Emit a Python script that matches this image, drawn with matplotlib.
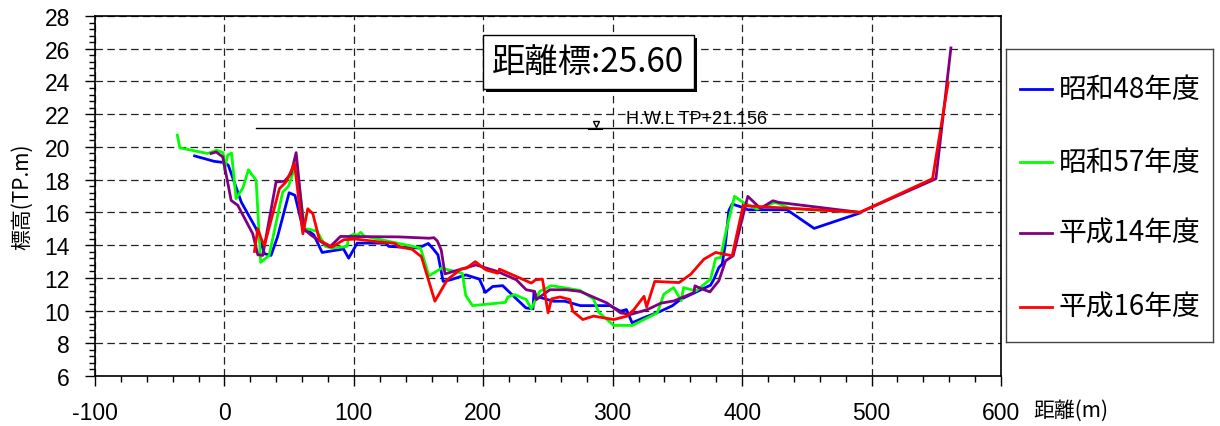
import numpy as np
import matplotlib
matplotlib.use('Agg')
import matplotlib.pyplot as plt
import matplotlib.patheffects as pe
from matplotlib.ticker import MultipleLocator

plt.rcParams['font.family'] = ['Noto Sans CJK JP', 'DejaVu Sans']
plt.rcParams['axes.unicode_minus'] = False

# 昭和48年度
x_s48 = [-23, -8, 0, 3, 13, 24.5, 31, 36, 41, 50, 54.5, 61, 66, 69, 75.5, 92, 96, 102.6,
         124.5, 127, 150, 157.5, 161, 165, 169, 174.8, 186.5, 197, 201.6, 207.3, 215, 223,
         233, 238.4, 239.2, 241, 254, 263, 275, 288, 298, 306, 310.6, 315, 324, 337, 346,
         352.6, 375.6, 378.2, 382, 384.6, 387.2, 389.7, 392.3, 400, 404.4, 434.6, 455.6, 491]
y_s48 = [19.45, 19.12, 19.04, 18.88, 16.63, 15.0, 13.47, 13.37, 14.5, 17.2, 17.04, 14.9, 14.8,
         14.63, 13.55, 13.76, 13.2, 14.12, 14.12, 13.92, 13.82, 14.1, 13.8, 13.4, 11.78, 11.88,
         12.18, 11.92, 11.11, 11.47, 11.52, 10.91, 10.16, 10.1, 11.17, 10.87, 10.57, 10.57,
         10.3, 10.3, 10.3, 9.96, 10.06, 9.25, 9.56, 9.96, 10.29, 10.69, 11.55, 11.92, 12.63,
         12.84, 14.16, 16.1, 16.51, 16.31, 16.16, 16.16, 15.02, 15.96]

# 昭和57年度
x_s57 = [-36.4, -34.4, -13, -6, -1, 0, 2.5, 5.5, 9, 14.3, 18.5, 24.5, 28, 34.5, 45, 49.5,
         55.5, 62, 66.5, 71.6, 78, 83, 94.8, 96.1, 100, 103, 105.2, 108, 151.5, 158, 167.8,
         183.8, 186.5, 191.7, 217.1, 219, 224.2, 233.2, 237.1, 243.6, 252.7, 274.8, 285.2,
         289.1, 300.8, 315.1, 334.5, 339.5, 347, 353, 354.7, 364.4, 375.6, 379.5, 383.3,
         388.5, 394.1, 400.8, 411.5, 425.6, 437.2, 491]
y_s57 = [20.72, 19.94, 19.6, 19.8, 19.65, 18.6, 19.5, 19.62, 16.84, 17.5, 18.6, 17.96, 12.94,
         13.37, 17.24, 17.6, 19.0, 15.0, 14.95, 14.84, 13.92, 13.82, 13.92, 14.53, 14.67,
         14.6, 14.78, 14.55, 13.82, 12.12, 12.59, 12.28, 10.91, 10.3, 10.5, 10.83, 10.97,
         10.67, 10.1, 11.17, 11.52, 11.23, 10.71, 9.9, 9.09, 9.09, 9.86, 11.0, 11.4, 10.6,
         11.4, 11.2, 11.92, 13.18, 13.24, 15.18, 16.98, 16.61, 16.2, 16.61, 16.24, 16.0]

# 平成14年度
x_h14 = [-10.3, -6.4, -1.3, 5.2, 10.3, 21.9, 25.8, 29.6, 39.9, 46.4, 51.5, 55.4, 61.3, 67,
         74.7, 81.5, 89.7, 135, 158, 161.9, 164.5, 167.5, 170.4, 194.3, 211.2, 225.5, 233.2,
         239.7, 241, 251.4, 264.4, 274.8, 295.6, 306, 313.8, 326.8, 337.2, 347.4, 362.8,
         363.5, 368, 375.1, 382, 387.2, 393.1, 398.7, 404.4, 414.1, 423.8, 428.2, 491, 549.7,
         561.3]
y_h14 = [19.6, 19.69, 19.39, 16.73, 16.43, 14.69, 13.41, 13.37, 17.86, 17.9, 18.37, 19.65,
         15.0, 14.6, 14.2, 13.89, 14.53, 14.5, 14.42, 14.45, 14.25, 13.7, 12.24, 12.79, 12.38,
         11.88, 11.27, 11.17, 10.67, 11.27, 11.27, 11.17, 10.46, 9.86, 9.76, 10.06, 10.45,
         10.59, 11.1, 11.51, 11.35, 11.14, 11.82, 13.04, 13.35, 15.18, 16.98, 16.24, 16.71,
         16.61, 16.0, 18.05, 26.05]

# 平成16年度
x_h16 = [23.2, 25.8, 28.4, 30.9, 42.5, 47.7, 54.1, 60.6, 64.4, 68.3, 73.5, 83.2, 92.3, 101.3,
         119, 132, 134.6, 145, 152.2, 162.6, 172.2, 182.6, 187, 193.8, 202.1, 211.2, 212.5,
         237.1, 240.5, 245.7, 250.1, 252.7, 259.2, 267, 269.1, 276.9, 285.2, 300.8, 311.2,
         316.4, 324.2, 326.2, 332.5, 351.3, 360.3, 370.5, 379.5, 392.3, 400.8, 491, 547.1,
         559.2]
y_h16 = [13.61, 15.0, 14.39, 13.98, 17.45, 17.86, 18.98, 14.69, 16.22, 15.92, 14.29, 13.88,
         14.33, 14.37, 14.2, 14.1, 13.9, 13.74, 13.29, 10.57, 11.88, 12.53, 12.59, 12.99,
         12.48, 12.28, 12.53, 11.68, 11.88, 11.92, 9.86, 10.71, 10.83, 10.67, 9.96, 9.45,
         9.66, 9.45, 9.66, 10.06, 10.87, 10.22, 11.78, 11.71, 12.22, 13.14, 13.55, 13.35,
         16.41, 16.0, 18.06, 23.93]

series = [
    (x_s48, y_s48, '#0000FF', '昭和48年度'),
    (x_s57, y_s57, '#00FF00', '昭和57年度'),
    (x_h14, y_h14, '#800080', '平成14年度'),
    (x_h16, y_h16, '#FF0000', '平成16年度'),
]

HWL = 21.156
hwl_x = [24.5, 553.5]
hwl_mark_x = 287
station = '25.60'

num_font = ['Liberation Sans', 'DejaVu Sans']

fig = plt.figure(figsize=(12.2, 4.27), dpi=100)
ax = fig.add_axes([95/1220, 50/427, 906/1220, 360/427])

for xs, ys, c, lab in series:
    ax.plot(xs, ys, color=c, lw=2, label=lab)

# H.W.L
ax.plot(hwl_x, [HWL, HWL], color='black', lw=1)
ax.plot([hwl_mark_x], [HWL + 0.25], marker='v', color='black', ms=5, mfc='white', mew=1)
ax.plot([hwl_mark_x - 5, hwl_mark_x + 5], [HWL - 0.08, HWL - 0.08], color='black', lw=1.5)
ax.text(310, HWL + 0.05, 'H.W.L TP+21.156', fontsize=13, va='bottom', ha='left',
        family=num_font)

# station box
t = ax.text(281, 25.2, '距離標:' + station, fontsize=24, ha='center', va='center',
            bbox=dict(boxstyle='square,pad=0.28', fc='white', ec='black', lw=1))
t.get_bbox_patch().set_path_effects([
    pe.SimplePatchShadow(offset=(2.5, -2.5), shadow_rgbFace='black', alpha=1.0),
    pe.Normal()])

ax.set_xlim(-100, 600)
ax.set_ylim(6, 28)
ax.xaxis.set_major_locator(MultipleLocator(100))
ax.xaxis.set_minor_locator(MultipleLocator(20))
ax.yaxis.set_major_locator(MultipleLocator(2))
ax.yaxis.set_minor_locator(MultipleLocator(0.4))
ax.tick_params(which='major', direction='out', length=7, width=1, labelsize=16.5)
ax.tick_params(which='minor', direction='out', length=4, width=1)
ax.tick_params(axis='y', which='major', pad=11)
ax.tick_params(axis='x', which='major', pad=11)
for lbl in ax.get_xticklabels() + ax.get_yticklabels():
    lbl.set_family(num_font)
for s in ax.spines.values():
    s.set_linewidth(1.2)

ax.grid(True, which='major', color='#222222', lw=0.9, linestyle=(0, (6, 3.5)))

ax.set_ylabel('標高(TP.m)', fontsize=15)
ax.yaxis.set_label_coords(-0.0684, 0.5)
fig.text(1033/1220, 1 - 411/427, '距離(m)', fontsize=15, ha='left', va='center')

# legend box drawn in its own axes
lax = fig.add_axes([1006/1220, (427 - 342.6)/427, 207/1220, 292.6/427])
lax.set_xlim(0, 1)
lax.set_ylim(0, 1)
lax.set_xticks([])
lax.set_yticks([])
for s in lax.spines.values():
    s.set_edgecolor('#444444')
    s.set_linewidth(1)
leg_y = [0.863, 0.614, 0.371, 0.118]
for (xs, ys, c, lab), yy in zip(series, leg_y):
    lax.plot([0.068, 0.222], [yy, yy], color=c, lw=2)
    lax.text(0.256, yy, lab, fontsize=20, va='center', ha='left')

fig.savefig('out.png', dpi=100, facecolor='white')
